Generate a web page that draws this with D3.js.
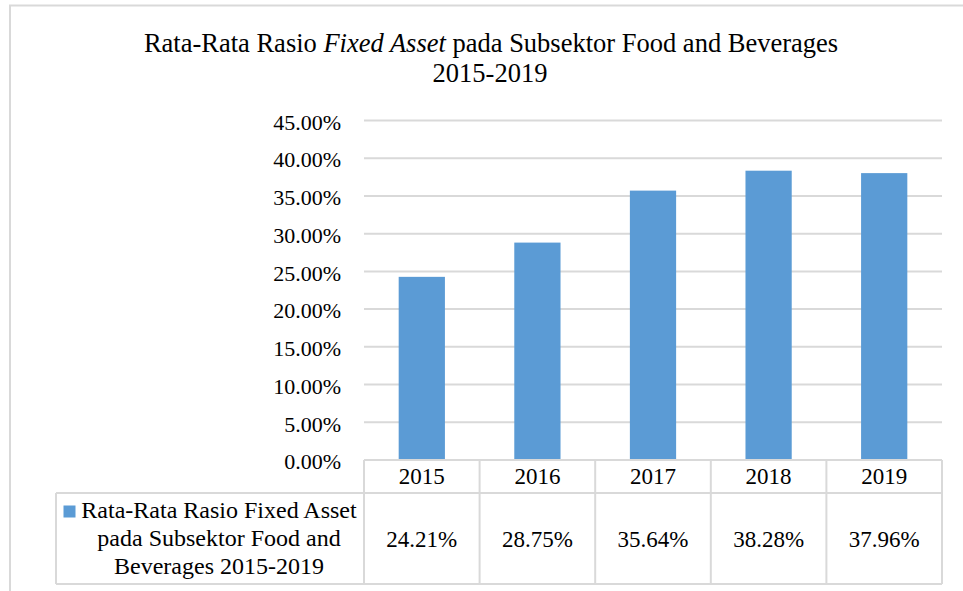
<!DOCTYPE html>
<html>
<head>
<meta charset="utf-8">
<script src="https://cdn.jsdelivr.net/npm/d3@7"></script>
<style>
    body { margin: 0; background: #fff; }
    text { font-family: "Liberation Serif", "Times New Roman", serif; fill: #000; }
</style>
</head>
<body>
<div id="chart"></div>
<script>
// data
const years = ["2015", "2016", "2017", "2018", "2019"];
const values = [24.21, 28.75, 35.64, 38.28, 37.96];
const yTicks = [0, 5, 10, 15, 20, 25, 30, 35, 40, 45];
const seriesName = ["Rata-Rata Rasio Fixed Asset", "pada Subsektor Food and", "Beverages 2015-2019"];

const W = 963, H = 591;
const plot = { left: 364, right: 942, top: 120, bottom: 459.5 };
const rows = { catTop: 460, catBottom: 493, dataBottom: 584, tableLeft: 56 };

const svg = d3.select("#chart").append("svg")
    .attr("width", W)
    .attr("height", H);

// outer chart border (runs off the right / bottom edges)
svg.append("path")
    .attr("d", `M10,${H + 5} L10,5.5 L${W + 5},5.5`)
    .attr("fill", "none")
    .attr("stroke", "#d9d9d9")
    .attr("stroke-width", 2);

// title
const title = svg.append("text")
    .attr("x", 491)
    .attr("y", 51.5)
    .attr("text-anchor", "middle")
    .style("font-size", "26.5px");
title.append("tspan").text("Rata-Rata Rasio ");
title.append("tspan").style("font-style", "italic").text("Fixed Asset");
title.append("tspan").text(" pada Subsektor Food and Beverages");
svg.append("text")
    .attr("x", 490)
    .attr("y", 81.5)
    .attr("text-anchor", "middle")
    .style("font-size", "26.5px")
    .text("2015-2019");

// scales
const x = d3.scaleBand()
    .domain(years)
    .range([plot.left, plot.right])
    .paddingInner(0)
    .paddingOuter(0);

const y = d3.scaleLinear()
    .domain([0, 45])
    .range([plot.bottom, plot.top]);

// gridlines
const grid = d3.axisLeft(y)
    .tickValues(yTicks)
    .tickSize(-(plot.right - plot.left))
    .tickFormat("");
svg.append("g")
    .attr("transform", `translate(${plot.left},0)`)
    .call(grid)
    .call(g => g.select(".domain").remove())
    .call(g => g.selectAll("line").attr("stroke", "#d9d9d9").attr("stroke-width", 2));

// y axis labels
const yAxis = d3.axisLeft(y)
    .tickValues(yTicks)
    .tickSize(0)
    .tickPadding(23)
    .tickFormat(d => d.toFixed(2) + "%");
svg.append("g")
    .attr("transform", `translate(${plot.left},0)`)
    .call(yAxis)
    .call(g => g.select(".domain").remove())
    .call(g => g.selectAll("text")
        .attr("dy", "0.42em")
        .style("font-family", "Liberation Serif, Times New Roman, serif")
        .style("font-size", "22px")
        .attr("fill", "#000"));

// bars (excel gap width 150%)
const barW = x.bandwidth() * 0.4;
svg.selectAll("rect.bar")
    .data(values)
    .enter().append("rect")
    .attr("class", "bar")
    .attr("x", (d, i) => x(years[i]) + (x.bandwidth() - barW) / 2)
    .attr("width", barW)
    .attr("y", d => y(d))
    .attr("height", d => y(0) - y(d))
    .attr("fill", "#5b9bd5");

// data table
const tbl = svg.append("g").attr("stroke", "#d9d9d9").attr("stroke-width", 2).attr("fill", "none");
tbl.append("line").attr("x1", plot.left).attr("x2", plot.right).attr("y1", rows.catTop).attr("y2", rows.catTop);
tbl.append("line").attr("x1", rows.tableLeft).attr("x2", plot.right).attr("y1", rows.catBottom).attr("y2", rows.catBottom);
tbl.append("line").attr("x1", rows.tableLeft).attr("x2", plot.right).attr("y1", rows.dataBottom).attr("y2", rows.dataBottom);
tbl.append("line").attr("x1", rows.tableLeft).attr("x2", rows.tableLeft).attr("y1", rows.catBottom).attr("y2", rows.dataBottom);
const edges = years.map(d => x(d)).concat([plot.right]);
tbl.selectAll("line.col")
    .data(edges)
    .enter().append("line")
    .attr("class", "col")
    .attr("x1", d => d).attr("x2", d => d)
    .attr("y1", rows.catTop).attr("y2", rows.dataBottom);

// category labels
svg.selectAll("text.cat")
    .data(years)
    .enter().append("text")
    .attr("class", "cat")
    .attr("x", d => x(d) + x.bandwidth() / 2)
    .attr("y", 484)
    .attr("text-anchor", "middle")
    .style("font-size", "23px")
    .text(d => d);

// values row
svg.selectAll("text.val")
    .data(values)
    .enter().append("text")
    .attr("class", "val")
    .attr("x", (d, i) => x(years[i]) + x.bandwidth() / 2)
    .attr("y", 546.5)
    .attr("text-anchor", "middle")
    .style("font-size", "23px")
    .text(d => d.toFixed(2) + "%");

// legend key + series name
svg.append("rect")
    .attr("x", 63.5).attr("y", 505.5)
    .attr("width", 12).attr("height", 12)
    .attr("fill", "#5b9bd5");
svg.selectAll("text.leg")
    .data(seriesName)
    .enter().append("text")
    .attr("class", "leg")
    .attr("x", 219)
    .attr("y", (d, i) => 518 + i * 28)
    .attr("text-anchor", "middle")
    .style("font-size", "24px")
    .text(d => d);
</script>
</body>
</html>
